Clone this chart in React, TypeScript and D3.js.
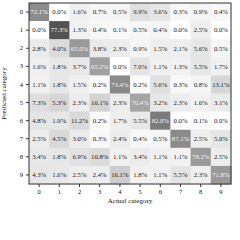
import { useEffect, useRef } from "react";
import * as d3 from "d3";

// rows = predicted category, columns = actual category (percent of actual column)
const categories = ["0", "1", "2", "3", "4", "5", "6", "7", "8", "9"];
const row0 = [72.1, 0.0, 1.6, 0.7, 0.5, 9.9, 3.6, 0.3, 0.9, 0.4];
const row1 = [0.0, 77.3, 1.3, 0.4, 0.1, 0.5, 0.4, 0.0, 2.5, 0.0];
const row2 = [2.8, 4.0, 65.0, 3.8, 2.3, 0.9, 1.5, 2.1, 5.6, 0.5];
const row3 = [1.6, 1.8, 3.7, 65.2, 0.0, 7.6, 1.1, 1.3, 5.5, 1.7];
const row4 = [1.1, 1.8, 1.5, 0.2, 73.4, 0.2, 5.6, 0.3, 0.8, 13.1];
const row5 = [7.3, 5.3, 2.3, 16.1, 2.3, 70.4, 3.2, 2.3, 1.6, 3.1];
const row6 = [4.8, 1.9, 11.2, 0.2, 1.7, 5.5, 82.0, 0.0, 0.1, 0.0];
const row7 = [2.5, 4.5, 3.0, 0.3, 2.4, 0.4, 0.5, 87.1, 2.5, 5.0];
const row8 = [3.4, 1.8, 6.9, 10.8, 1.1, 3.4, 1.1, 1.1, 78.2, 2.5];
const row9 = [4.3, 1.6, 2.5, 2.4, 16.1, 1.8, 1.1, 5.5, 2.3, 71.8];
const rows = [row0, row1, row2, row3, row4, row5, row6, row7, row8, row9];
// estimated samples per actual category (drives the shading)
const actualTotals = [1000, 2140, 870, 780, 1010, 660, 1180, 860, 730, 800];

const W = 240;
const H = 240;
const margin = { top: 3, right: 9, bottom: 56, left: 29 };

export default function App() {
  const svgRef = useRef<SVGSVGElement>(null);

  useEffect(() => {
    const svg = d3.select(svgRef.current);
    svg.selectAll("*").remove();
    const iw = W - margin.left - margin.right;
    const ih = H - margin.top - margin.bottom;
    const font = "'Liberation Serif', serif";

    const x = d3.scaleBand().domain(categories).range([0, iw]);
    const y = d3.scaleBand().domain(categories).range([0, ih]);

    const cells = rows.flatMap((r, i) =>
      r.map((v, j) => ({ pred: categories[i], act: categories[j], v, count: (v * actualTotals[j]) / 100 }))
    );
    const maxCount = d3.max(cells, (d) => d.count) as number;
    const shade = d3.scalePow().exponent(0.387).domain([0, maxCount]).range([0, 0.74]);

    const g = svg.append("g").attr("transform", `translate(${margin.left},${margin.top})`);

    g.selectAll(".cell")
      .data(cells)
      .join("rect")
      .attr("class", "cell")
      .attr("x", (d) => x(d.act)!)
      .attr("y", (d) => y(d.pred)!)
      .attr("width", x.bandwidth() + 0.5)
      .attr("height", y.bandwidth() + 0.5)
      .attr("fill", (d) => d3.interpolateGreys(shade(d.count)));

    g.selectAll(".lbl")
      .data(cells)
      .join("text")
      .attr("class", "lbl")
      .attr("x", (d) => x(d.act)! + x.bandwidth() / 2)
      .attr("y", (d) => y(d.pred)! + y.bandwidth() / 2)
      .attr("dy", "0.35em")
      .attr("text-anchor", "middle")
      .attr("font-family", font)
      .attr("font-size", 6.7)
      .attr("fill", (d) => (shade(d.count) > 0.4 ? "#f4f4f4" : "#1a1a1a"))
      .text((d) => `${d.v.toFixed(1)}%`);

    g.append("rect")
      .attr("width", iw)
      .attr("height", ih)
      .attr("fill", "none")
      .attr("stroke", "#333")
      .attr("stroke-width", 1);

    const xAxis = g
      .append("g")
      .attr("transform", `translate(0,${ih})`)
      .call(d3.axisBottom(x).tickSize(3).tickPadding(2));
    const yAxis = g.append("g").call(d3.axisLeft(y).tickSize(3).tickPadding(3));
    [xAxis, yAxis].forEach((a) => {
      a.select(".domain").remove();
      a.selectAll("line").attr("stroke", "#333");
      a.selectAll("text").attr("font-family", font).attr("font-size", 6.5).attr("fill", "#111");
    });

    g.append("text")
      .attr("x", iw / 2)
      .attr("y", ih + 19)
      .attr("text-anchor", "middle")
      .attr("font-family", font)
      .attr("font-size", 7)
      .attr("fill", "#111")
      .text("Actual category");

    g.append("text")
      .attr("transform", `translate(${-23},${ih / 2}) rotate(-90)`)
      .attr("text-anchor", "middle")
      .attr("font-family", font)
      .attr("font-size", 7)
      .attr("fill", "#111")
      .text("Predicted category");
  }, []);

  return (
    <svg ref={svgRef} width={W} height={H} style={{ display: "block", position: "absolute", left: 0, top: 0 }} />
  );
}
